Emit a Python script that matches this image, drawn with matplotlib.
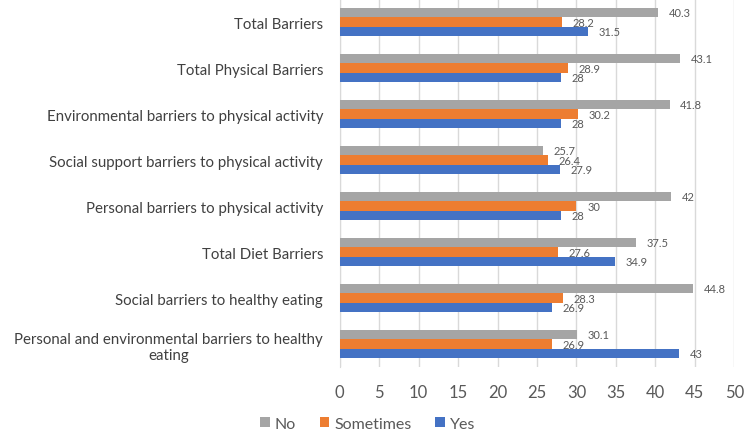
import matplotlib.pyplot as plt
import numpy as np

# category labels, top to bottom
categories = ["Total Barriers", "Total Physical Barriers",
              "Environmental barriers to physical activity",
              "Social support barriers to physical activity",
              "Personal barriers to physical activity",
              "Total Diet Barriers", "Social barriers to healthy eating",
              "Personal and environmental barriers to healthy\neating"]
no_vals = [40.3, 43.1, 41.8, 25.7, 42, 37.5, 44.8, 30.1]
sometimes_vals = [28.2, 28.9, 30.2, 26.4, 30, 27.6, 28.3, 26.9]
yes_vals = [31.5, 28, 28, 27.9, 28, 34.9, 26.9, 43]

plt.rcParams['font.family'] = ['Lato', 'DejaVu Sans']

fig, ax = plt.subplots(figsize=(7.5, 4.31), dpi=100)
fig.subplots_adjust(left=0.453, right=0.979, top=1.0, bottom=0.146)

y = np.arange(len(categories))
h = 0.205
series = [("No", no_vals, "#A5A5A5", -h),
          ("Sometimes", sometimes_vals, "#ED7D31", 0),
          ("Yes", yes_vals, "#4472C4", h)]

for name, vals, col, off in series:
    bars = ax.barh(y + off, vals, height=h, color=col, label=name, zorder=3)
    for b, v in zip(bars, vals):
        ax.text(v + 1.35, b.get_y() + b.get_height() / 2, f"{v:g}",
                va="center", ha="left", fontsize=8, color="#595959", zorder=4)

ax.set_ylim(len(categories) - 0.5, -0.5)
ax.set_xlim(0, 50)
ax.set_xticks(np.arange(0, 51, 5))
ax.set_yticks(y)
ax.set_yticklabels(categories, fontsize=10.8, color="#404040",
                   multialignment="center")
ax.tick_params(axis="y", length=0, pad=12)
ax.tick_params(axis="x", length=0, labelsize=12, colors="#595959", pad=12)
ax.xaxis.grid(True, color="#D9D9D9", linewidth=1, zorder=0)
for s in ["top", "right", "bottom"]:
    ax.spines[s].set_visible(False)
ax.spines["left"].set_color("#D9D9D9")

# legend order as in the picture
handles, labels = ax.get_legend_handles_labels()
fig.legend(handles, labels, loc="lower center", bbox_to_anchor=(0.49, -0.035),
           ncol=3, frameon=False, fontsize=11.5, handlelength=0.6, handleheight=0.6,
           columnspacing=1.5, handletextpad=0.3, labelcolor="#595959")

plt.savefig("out.png")
